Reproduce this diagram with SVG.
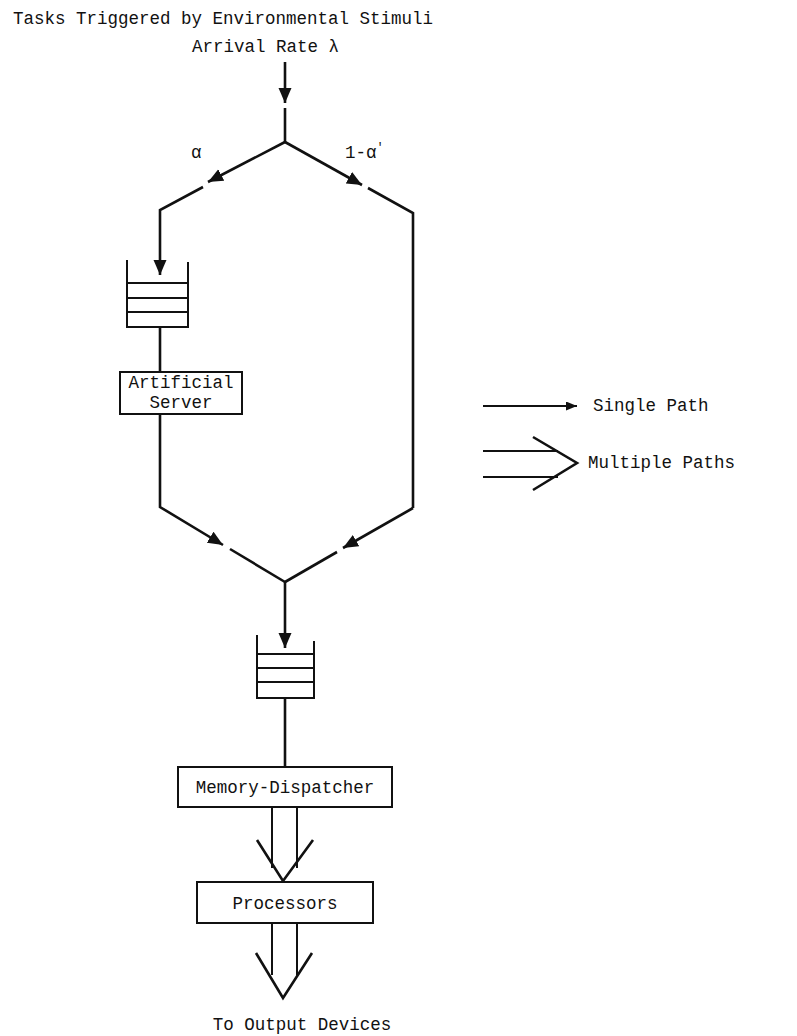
<svg xmlns="http://www.w3.org/2000/svg" width="797" height="1036" viewBox="0 0 797 1036">
  <style>
    .txt { font-family: "Liberation Mono", "Courier New", monospace; font-size: 17.5px; fill: #111; }
    .mid { text-anchor: middle; }
    .line { fill: none; stroke: #111; stroke-width: 2.6; stroke-linejoin: miter; }
    .thin { fill: none; stroke: #111; stroke-width: 2; }
    .box { fill: #fff; stroke: #111; stroke-width: 2; }
    .arrow-line { fill: none; stroke: #111; stroke-width: 2.6; marker-end: url(#head); }
  </style>
  <defs>
    <marker id="head" markerUnits="userSpaceOnUse" markerWidth="16" markerHeight="14" refX="15" refY="6.5" orient="auto">
      <path d="M0,0 L15,6.5 L0,13 Z" fill="#111"/>
    </marker>
    <marker id="headSmall" markerUnits="userSpaceOnUse" markerWidth="12" markerHeight="10" refX="11" refY="4.5" orient="auto">
      <path d="M0,0 L11,4.5 L0,9 Z" fill="#111"/>
    </marker>
  </defs>

  <rect width="797" height="1036" fill="#fff"/>

  <!-- heading -->
  <g id="title">
    <text class="txt" x="13" y="24">Tasks Triggered by Environmental Stimuli</text>
    <text class="txt" x="192" y="52">Arrival Rate λ</text>
  </g>

  <!-- branch probabilities -->
  <g id="labels">
    <text class="txt" x="191" y="158">α</text>
    <text class="txt" x="345" y="158">1-α<tspan dy="-7" font-size="12">′</tspan></text>
  </g>

  <!-- connectors -->
  <g id="connectors">
    <!-- arrival -->
    <path class="arrow-line" d="M285,62 L285,103"/>
    <path class="line" d="M285,108 L285,142"/>
    <!-- split: alpha branch -->
    <path class="arrow-line" d="M285,142 L208,182"/>
    <path class="arrow-line" d="M203,187 L160,210 L160,275"/>
    <!-- split: 1-alpha branch -->
    <path class="arrow-line" d="M285,142 L362,185"/>
    <path class="line" d="M368,188 L413,213 L413,508"/>
    <!-- queue 1 to artificial server -->
    <path class="line" d="M160,327 L160,372"/>
    <!-- merge -->
    <path class="arrow-line" d="M160,414 L160,507 L223,545"/>
    <path class="line" d="M230,549 L285,582"/>
    <path class="arrow-line" d="M413,508 L343,548"/>
    <path class="line" d="M337,552 L285,582"/>
    <path class="arrow-line" d="M285,582 L285,648"/>
    <!-- queue 2 to dispatcher -->
    <path class="line" d="M285,698 L285,767"/>
    <!-- dispatcher to processors (multiple paths) -->
    <path class="thin" d="M272,807 L272,868 M297,807 L297,868"/>
    <path class="line" d="M257,840 L283,881 L313,840"/>
    <!-- processors to output (multiple paths) -->
    <path class="thin" d="M272,922 L272,975 M297,922 L297,975"/>
    <path class="line" d="M256,953 L283,998 L312,953"/>
  </g>

  <!-- queue feeding the artificial server -->
  <g id="queue1">
    <path class="thin" d="M127,260 L127,327 L188,327 L188,262"/>
    <path class="thin" d="M127,283 L188,283 M127,298 L188,298 M127,312 L188,312"/>
  </g>

  <g id="artificial-server">
    <rect class="box" x="120" y="372" width="122" height="42"/>
    <text class="txt mid" x="181" y="388">Artificial</text>
    <text class="txt mid" x="181" y="408">Server</text>
  </g>

  <!-- queue feeding the dispatcher -->
  <g id="queue2">
    <path class="thin" d="M257,635 L257,698 L314,698 L314,641"/>
    <path class="thin" d="M257,654 L314,654 M257,668 L314,668 M257,682 L314,682"/>
  </g>

  <g id="memory-dispatcher">
    <rect class="box" x="178" y="767" width="214" height="40"/>
    <text class="txt mid" x="285" y="793">Memory-Dispatcher</text>
  </g>

  <g id="processors">
    <rect class="box" x="197" y="882" width="176" height="41"/>
    <text class="txt mid" x="285" y="909">Processors</text>
  </g>

  <g id="output">
    <text class="txt mid" x="302" y="1030">To Output Devices</text>
  </g>

  <!-- key -->
  <g id="legend">
    <path class="thin" d="M483,406 L577,406" marker-end="url(#headSmall)"/>
    <text class="txt" x="593" y="411">Single Path</text>
    <path class="thin" d="M483,451 L558,451 M483,477 L558,477"/>
    <path class="line" d="M533,437 L577,463 L533,490"/>
    <text class="txt" x="588" y="468">Multiple Paths</text>
  </g>
</svg>
